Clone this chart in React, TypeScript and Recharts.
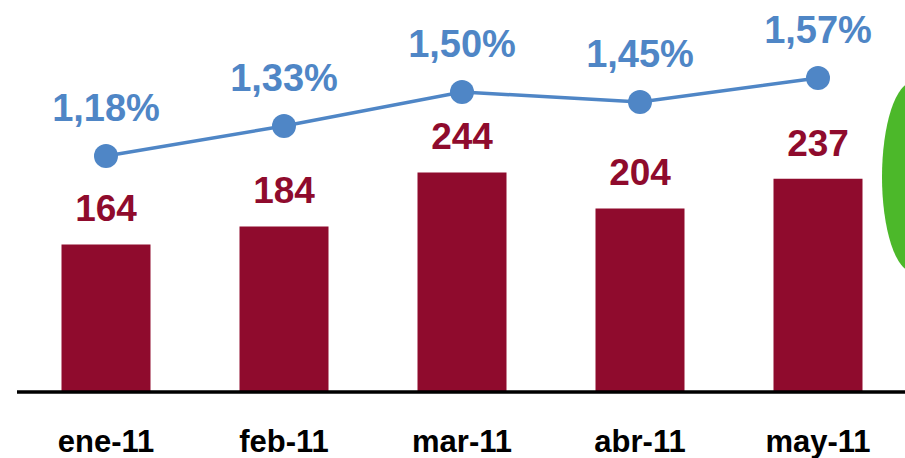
import React from 'react'
import {
  ComposedChart,
  Bar,
  Line,
  XAxis,
  YAxis,
  LabelList,
} from 'recharts'

const months = ['ene-11', 'feb-11', 'mar-11', 'abr-11', 'may-11']
const volumes = [164, 184, 244, 204, 237]
const rates = [1.18, 1.33, 1.5, 1.45, 1.57]

const data = months.map((month, i) => ({
  month,
  volume: volumes[i],
  rate: rates[i],
}))

const BAR_COLOR = '#8f0b2d'
const LINE_COLOR = '#4f86c6'
const FONT = '"Liberation Sans", Arial, sans-serif'

// eslint-disable-next-line @typescript-eslint/no-explicit-any
function BarLabel(props: any) {
  const { x, y, width, value } = props
  return (
    <text
      x={Number(x) + Number(width) / 2}
      y={Number(y) - 23}
      textAnchor="middle"
      fill={BAR_COLOR}
      fontSize={37}
      fontWeight={700}
      fontFamily={FONT}
    >
      {value}
    </text>
  )
}

// eslint-disable-next-line @typescript-eslint/no-explicit-any
function RateLabel(props: any) {
  const { x, y, value } = props
  return (
    <text
      x={Number(x)}
      y={Number(y) - 35}
      textAnchor="middle"
      fill={LINE_COLOR}
      fontSize={38}
      fontWeight={700}
      fontFamily={FONT}
    >
      {Number(value).toFixed(2).replace('.', ',') + '%'}
    </text>
  )
}

// eslint-disable-next-line @typescript-eslint/no-explicit-any
function MonthTick(props: any) {
  const { x, y, payload } = props
  return (
    <text
      x={x}
      y={Number(y) + 60}
      textAnchor="middle"
      fill="#000"
      fontSize={31}
      fontWeight={700}
      fontFamily={FONT}
    >
      {payload.value}
    </text>
  )
}

export default function App() {
  return (
    <div
      style={{
        position: 'absolute',
        left: 0,
        top: 0,
        width: 905,
        height: 458,
        overflow: 'hidden',
        background: '#fff',
      }}
    >
      <ComposedChart
        width={907}
        height={458}
        data={data}
        margin={{ top: 32, right: 0, left: 17, bottom: 0 }}
        barCategoryGap="25%"
      >
        <XAxis
          dataKey="month"
          height={66}
          axisLine={{ stroke: '#000', strokeWidth: 3.5 }}
          tickLine={false}
          tickSize={0}
          tickMargin={0}
          tick={<MonthTick />}
          interval={0}
        />
        <YAxis yAxisId="vol" hide domain={[0, 400]} />
        <YAxis yAxisId="rate" hide domain={[0, 1.8]} orientation="right" />
        <Bar
          yAxisId="vol"
          dataKey="volume"
          fill={BAR_COLOR}
          isAnimationActive={false}
        >
          <LabelList dataKey="volume" content={<BarLabel />} />
        </Bar>
        <Line
          yAxisId="rate"
          dataKey="rate"
          stroke={LINE_COLOR}
          strokeWidth={3.5}
          dot={{ r: 12, fill: LINE_COLOR, stroke: 'none' }}
          activeDot={false}
          isAnimationActive={false}
        >
          <LabelList dataKey="rate" content={<RateLabel />} />
        </Line>
      </ComposedChart>
      <svg
        width={905}
        height={458}
        style={{ position: 'absolute', left: 0, top: 0, pointerEvents: 'none' }}
      >
        <ellipse cx={913} cy={177} rx={31} ry={95} fill="#4cb82a" />
      </svg>
    </div>
  )
}
